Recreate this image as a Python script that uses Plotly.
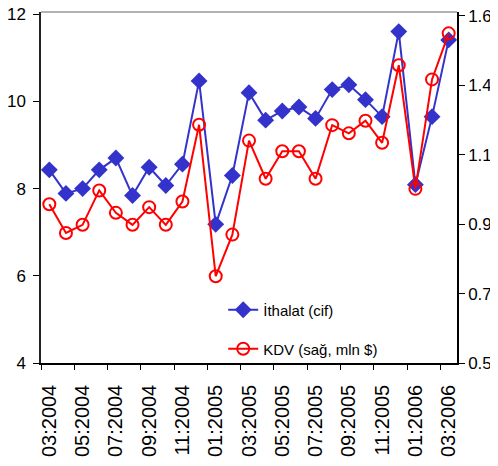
import plotly.graph_objects as go

months = ["03:2004","04:2004","05:2004","06:2004","07:2004","08:2004","09:2004","10:2004",
          "11:2004","12:2004","01:2005","02:2005","03:2005","04:2005","05:2005","06:2005",
          "07:2005","08:2005","09:2005","10:2005","11:2005","12:2005","01:2006","02:2006","03:2006"]
ithalat = [8.43, 7.89, 8.00, 8.43, 8.70, 7.84, 8.49, 8.07, 8.56, 10.47, 7.18, 8.30, 10.20,
           9.57, 9.78, 9.87, 9.61, 10.27, 10.38, 10.04, 9.65, 11.60, 8.09, 9.65, 11.41]
kdv = [1.003, 0.912, 0.938, 1.047, 0.976, 0.938, 0.994, 0.938, 1.012, 1.255, 0.775, 0.907, 1.205,
       1.084, 1.171, 1.171, 1.084, 1.254, 1.228, 1.268, 1.198, 1.444, 1.052, 1.399, 1.545]
left_ticks = [4, 6, 8, 10, 12]
right_tickvals = [0.5, 0.72, 0.94, 1.16, 1.38, 1.60]
right_ticktext = ["0.5", "0.7", "0.9", "1.1", "1.4", "1.6"]

idx = list(range(len(months)))
label_idx = idx[::2]
label_text = [months[i] for i in label_idx]
boundaries = [i - 0.5 for i in label_idx]

FONT = "Liberation Sans, Arial, sans-serif"
BLUE = "#3333CC"
RED = "#FF0000"

fig = go.Figure()
fig.add_trace(go.Scatter(
    x=idx, y=ithalat, name="İthalat (cif)", mode="lines+markers",
    line=dict(color=BLUE, width=2),
    marker=dict(symbol="diamond", size=13, color=BLUE),
    legend="legend", xaxis="x", yaxis="y"))
fig.add_trace(go.Scatter(
    x=idx, y=kdv, name="KDV (sağ, mln $)", mode="lines+markers",
    line=dict(color=RED, width=2),
    marker=dict(symbol="circle-open", size=12, color=RED, line=dict(width=2)),
    legend="legend2", xaxis="x", yaxis="y2"))

fig.update_layout(
    width=490, height=458,
    margin=dict(l=33, r=41, t=4, b=103, autoexpand=False),
    paper_bgcolor="white", plot_bgcolor="white",
    font=dict(family=FONT, size=16, color="black"),
    xaxis=dict(range=[-0.5, 24.5], tickmode="array", tickvals=label_idx, ticktext=label_text,
               tickangle=-90, ticks="", showgrid=False, zeroline=False,
               showline=True, linecolor="black", linewidth=1.5,
               tickfont=dict(size=20), ticklabelstandoff=12),
    xaxis2=dict(range=[-0.5, 24.5], overlaying="x", tickmode="array", tickvals=boundaries,
                showticklabels=False, ticks="outside", ticklen=6, tickcolor="black",
                showgrid=False, zeroline=False, showline=False, anchor="y"),
    yaxis=dict(range=[4, 12.05], tickmode="array", tickvals=left_ticks, ticks="outside",
               ticklen=6, tickcolor="black", showgrid=False, zeroline=False,
               showline=True, linecolor="#222222", linewidth=1.5, tickfont=dict(size=17),
               ticklabeloverflow="allow", ticklabelstandoff=4),
    yaxis2=dict(range=[0.5, 1.6126], overlaying="y", side="right", tickmode="array",
                tickvals=right_tickvals, ticktext=right_ticktext, ticks="outside",
                ticklen=6, tickcolor="black", showgrid=False, zeroline=False,
                showline=True, linecolor="black", linewidth=1.5, tickfont=dict(size=17),
                ticklabeloverflow="allow", ticklabelstandoff=0),
    legend=dict(x=0.438, y=0.198, xanchor="left", yanchor="top", bgcolor="rgba(255,255,255,0)",
                font=dict(size=15), borderwidth=0),
    legend2=dict(x=0.438, y=0.087, xanchor="left", yanchor="top", bgcolor="rgba(255,255,255,0)",
                 font=dict(size=15), borderwidth=0),
    showlegend=True,
)
fig.add_trace(go.Scatter(x=[None], y=[None], xaxis="x2", yaxis="y", showlegend=False,
                         hoverinfo="skip"))
fig.add_shape(type="line", xref="paper", yref="paper", x0=0, x1=1, y0=1, y1=1,
              line=dict(color="#999999", width=1.5))

fig.write_html("out.html")
